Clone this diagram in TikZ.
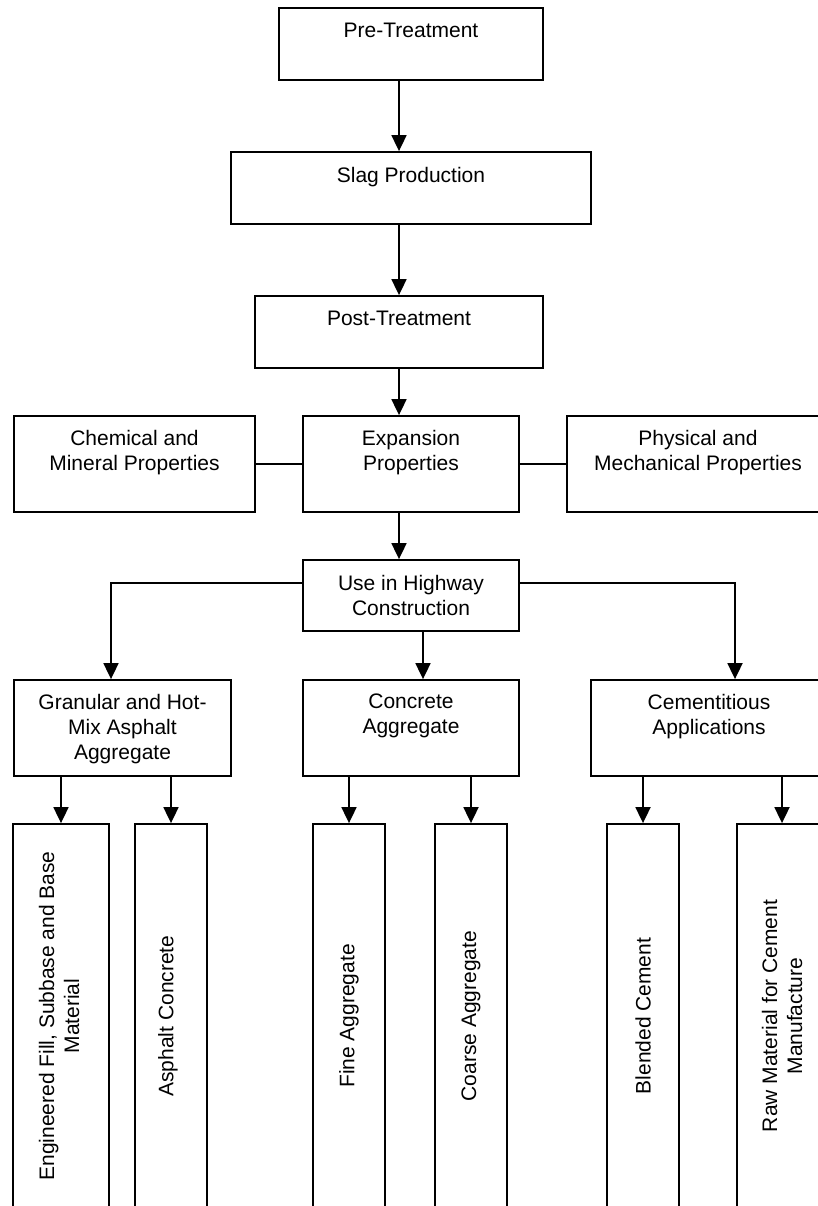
\documentclass[tikz,border=0pt]{standalone}
\usepackage{fontspec}
\setmainfont{Liberation Sans}
\usetikzlibrary{arrows.meta}
\begin{document}
\begin{tikzpicture}[x=1pt,y=-1pt,
  box/.style={draw, line width=1.8pt, inner sep=0pt},
  txt/.style={anchor=north, align=center, inner sep=0pt, font=\fontsize{21}{25}\selectfont},
  rtxt/.style={anchor=center, align=center, inner sep=0pt, rotate=90, font=\fontsize{21}{25}\selectfont},
  arr/.style={line width=1.8pt, -{Triangle[length=16pt,width=15pt]}},
  ln/.style={line width=1.8pt}]
\useasboundingbox (0,0) rectangle (818,1206);
% main chain
\node[box, minimum width=264pt, minimum height=72pt] (pre) at (411,44) {};
\node[box, minimum width=360pt, minimum height=72pt] (slag) at (411,188) {};
\node[box, minimum width=288pt, minimum height=72pt] (post) at (399,332) {};
\node[box, minimum width=241pt, minimum height=96pt] (chem) at (134.5,464) {};
\node[box, minimum width=216pt, minimum height=96pt] (exp) at (411,464) {};
\node[box, minimum width=262pt, minimum height=96pt] (phys) at (698,464) {};
\node[box, minimum width=216pt, minimum height=71pt] (use) at (411,595.5) {};
\node[box, minimum width=217pt, minimum height=96pt] (gran) at (122.5,728) {};
\node[box, minimum width=216pt, minimum height=96pt] (conc) at (411,728) {};
\node[box, minimum width=236pt, minimum height=96pt] (cem) at (709,728) {};
% leaves
\node[box, minimum width=96pt, minimum height=384pt] (l1) at (61,1016) {};
\node[box, minimum width=72pt, minimum height=384pt] (l2) at (171,1016) {};
\node[box, minimum width=72pt, minimum height=384pt] (l3) at (349,1016) {};
\node[box, minimum width=72pt, minimum height=384pt] (l4) at (471,1016) {};
\node[box, minimum width=72pt, minimum height=384pt] (l5) at (643,1016) {};
\node[box, minimum width=90pt, minimum height=384pt] (l6) at (782,1016) {};
% texts
\node[txt] (preT) at ([yshift=-16pt]pre.north) {Pre-Treatment};
\node[txt] (slagT) at ([yshift=-16pt]slag.north) {Slag Production};
\node[txt] (postT) at ([yshift=-16pt]post.north) {Post-Treatment};
\node[txt] (chemT) at ([yshift=-15pt]chem.north) {Chemical and\\Mineral Properties};
\node[txt] (expT) at ([yshift=-15pt]exp.north) {Expansion\\Properties};
\node[txt] (physT) at ([yshift=-15pt]phys.north) {Physical and\\Mechanical Properties};
\node[txt] (useT) at ([yshift=-16pt]use.north) {Use in Highway\\Construction};
\node[txt] (granT) at ([yshift=-15pt]gran.north) {Granular and Hot-\\Mix Asphalt\\Aggregate};
\node[txt] (concT) at ([yshift=-15pt]conc.north) {Concrete\\Aggregate};
\node[txt] (cemT) at ([yshift=-15pt]cem.north) {Cementitious\\Applications};
\node[rtxt] (l1T) at ([xshift=-2pt]l1.center) {Engineered Fill, Subbase and Base\\Material};
\node[rtxt] (l2T) at ([xshift=-3pt]l2.center) {Asphalt Concrete};
\node[rtxt] (l3T) at (l3.center) {Fine Aggregate};
\node[rtxt] (l4T) at (l4.center) {Coarse Aggregate};
\node[rtxt] (l5T) at (l5.center) {Blended Cement};
\node[rtxt] (l6T) at (l6.center) {Raw Material for Cement\\Manufacture};
% connectors
\draw[arr] ([xshift=-12pt]pre.south) -- ([xshift=-12pt]slag.north);
\draw[arr] ([xshift=-12pt]slag.south) -- (post.north);
\draw[arr] (post.south) -- ([xshift=-12pt]exp.north);
\draw[ln] (chem.east) -- (exp.west);
\draw[ln] (exp.east) -- (phys.west);
\draw[arr] ([xshift=-12pt]exp.south) -- ([xshift=-12pt]use.north);
\draw[arr] ([yshift=12.5pt]use.west) -| ([xshift=-11.5pt]gran.north);
\draw[arr] ([xshift=12pt]use.south) -- ([xshift=12pt]conc.north);
\draw[arr] ([yshift=12.5pt]use.east) -| ([xshift=26pt]cem.north);
\draw[arr] (gran.south -| l1.north) -- (l1.north);
\draw[arr] (gran.south -| l2.north) -- (l2.north);
\draw[arr] (conc.south -| l3.north) -- (l3.north);
\draw[arr] (conc.south -| l4.north) -- (l4.north);
\draw[arr] (cem.south -| l5.north) -- (l5.north);
\draw[arr] (cem.south -| l6.north) -- (l6.north);
\end{tikzpicture}
\end{document}
